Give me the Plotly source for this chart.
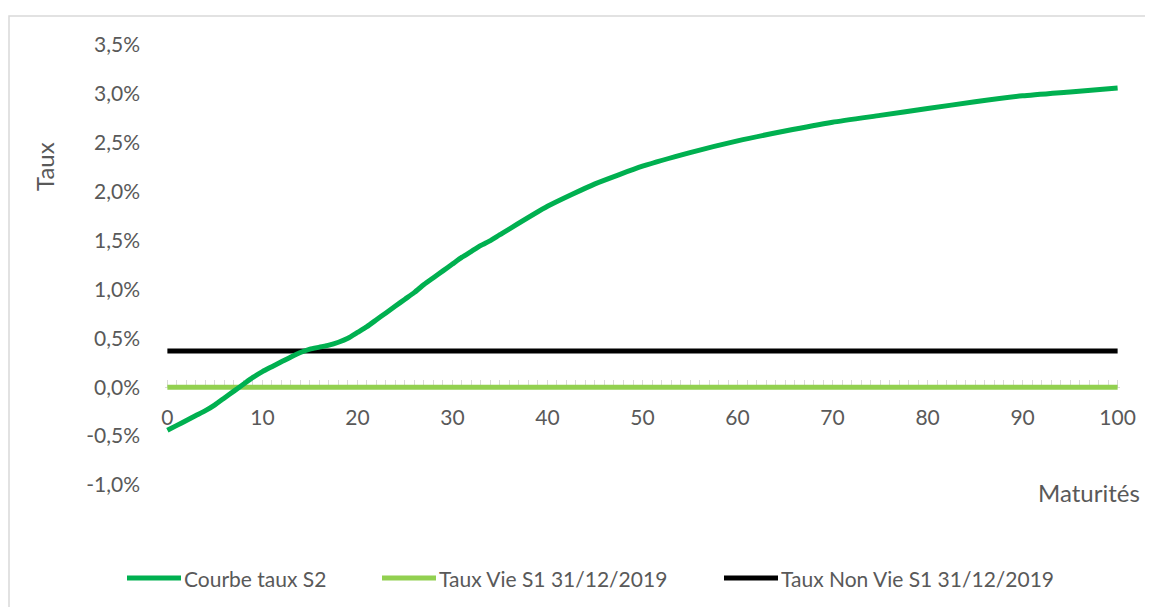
import plotly.graph_objects as go

# ---- data ----
maturites = list(range(0, 36)) + [40, 45, 50, 55, 60, 65, 70, 75, 80, 85, 90, 95, 100]
courbe_s2 = [-0.44, -0.39, -0.34, -0.29, -0.24, -0.18, -0.11, -0.04, 0.03, 0.10,
             0.16, 0.21, 0.26, 0.31, 0.355, 0.39, 0.41, 0.43, 0.46, 0.50,
             0.56, 0.62, 0.69, 0.76, 0.83, 0.90, 0.97, 1.05, 1.12, 1.19,
             1.26, 1.33, 1.39, 1.45, 1.50, 1.56,
             1.85, 2.08, 2.26, 2.40, 2.52, 2.62, 2.71, 2.78, 2.85, 2.92, 2.98, 3.02, 3.06]
taux_vie_s1 = [0.0 for _ in maturites]
taux_non_vie_s1 = [0.37 for _ in maturites]

series_names = ["Courbe taux S2", "Taux Vie S1 31/12/2019", "Taux Non Vie S1 31/12/2019"]
series_colors = ["#00B050", "#92D050", "#000000"]

y_tickvals = [-1.0, -0.5, 0.0, 0.5, 1.0, 1.5, 2.0, 2.5, 3.0, 3.5]
y_ticktext = ["-1,0%", "-0,5%", "0,0%", "0,5%", "1,0%", "1,5%", "2,0%", "2,5%", "3,0%", "3,5%"]
x_tickvals = [0, 10, 20, 30, 40, 50, 60, 70, 80, 90, 100]

# ---- layout geometry (pixels, in screenshot coordinates) ----
OFF = 8  # page body margin
SW, SH = 1153, 607
W, H = SW - OFF, SH - OFF
PL, PR, PT, PB = 165, 1120, 45, 485  # plot area in screenshot coords
L, T = PL - OFF, PT - OFF
R = W - (PR - OFF)
B = H - (PB - OFF)
pw, ph = PR - PL, PB - PT
YMIN, YMAX = -1.0, 3.5
FONT = "Lato"
GRAY = "#595959"

def px_x(px):
    return (px - PL) / pw

def px_y(py):
    return (PB - py) / ph

fig = go.Figure()

order = [1, 2, 0]
ys = [courbe_s2, taux_vie_s1, taux_non_vie_s1]
for i in order:
    fig.add_trace(go.Scatter(
        x=maturites, y=ys[i], mode="lines", name=series_names[i],
        line=dict(color=series_colors[i], width=5, shape="spline", smoothing=0.5),
        showlegend=False, hoverinfo="x+y+name",
    ))

shapes = []
annotations = []

# chart border
shapes.append(dict(type="rect", xref="paper", yref="paper",
                   x0=px_x(9), x1=px_x(1200), y0=px_y(16), y1=px_y(700),
                   line=dict(color="#D9D9D9", width=1.5), fillcolor="rgba(0,0,0,0)", layer="below"))

# custom legend
leg_y = px_y(578)
leg_starts = [125, 380, 722]
for i, x0 in enumerate(leg_starts):
    shapes.append(dict(type="line", xref="paper", yref="paper",
                       x0=px_x(x0 + 2), x1=px_x(x0 + 56), y0=leg_y, y1=leg_y,
                       line=dict(color=series_colors[i], width=5)))
    annotations.append(dict(xref="paper", yref="paper", x=px_x(x0 + 57), y=leg_y,
                            xanchor="left", yanchor="middle", showarrow=False,
                            text=series_names[i], font=dict(family=FONT, size=21, color=GRAY)))

# axis titles
annotations.append(dict(xref="paper", yref="paper", x=px_x(44), y=px_y(167),
                        text="Taux", textangle=-90, showarrow=False,
                        xanchor="center", yanchor="middle",
                        font=dict(family=FONT, size=24, color=GRAY)))
annotations.append(dict(xref="paper", yref="paper", x=px_x(1142), y=px_y(493),
                        text="Maturités", showarrow=False,
                        xanchor="right", yanchor="middle",
                        font=dict(family=FONT, size=24, color=GRAY)))

fig.update_layout(
    width=W, height=H,
    margin=dict(l=L, r=R, t=T, b=B, pad=0),
    paper_bgcolor="white", plot_bgcolor="white",
    font=dict(family=FONT, size=21, color=GRAY),
    shapes=shapes, annotations=annotations,
    showlegend=False,
    xaxis=dict(
        range=[-0.25, 100.25], anchor="free", position=(0 - YMIN) / (YMAX - YMIN),
        showgrid=False, zeroline=False, layer="below traces",
        showline=True, linecolor="#D9D9D9", linewidth=1,
        tickvals=x_tickvals, ticks="inside", ticklen=7, tickcolor="#D9D9D9", tickwidth=1,
        minor=dict(dtick=1, tick0=0, ticks="inside", ticklen=7, tickcolor="#D9D9D9", tickwidth=1),
        ticklabelstandoff=12,
        tickfont=dict(family=FONT, size=21, color=GRAY),
    ),
    yaxis=dict(
        range=[YMIN, YMAX], showgrid=False, zeroline=False, showline=False,
        tickvals=y_tickvals, ticktext=y_ticktext, ticks="",
        ticklabelstandoff=24,
        tickfont=dict(family=FONT, size=21, color=GRAY),
    ),
)

fig.write_html("out.html")
